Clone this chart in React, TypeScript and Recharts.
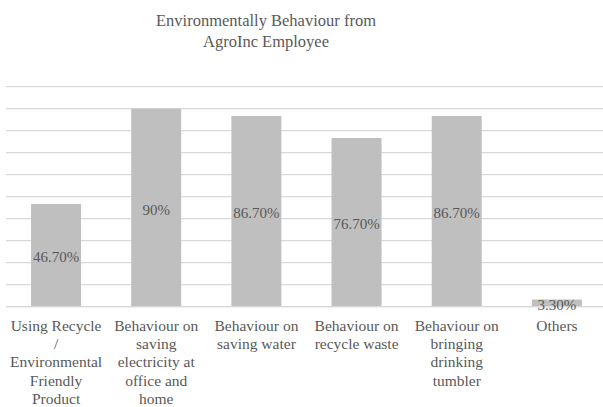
import { Bar, BarChart, CartesianGrid, LabelList, XAxis, YAxis } from 'recharts';

// Single grey series, Excel-style: light gridlines, centred value labels,
// wrapped category names under the axis. No legend.

const CATEGORIES = [
  'Using Recycle\n/\nEnvironmental\nFriendly\nProduct',
  'Behaviour on\nsaving\nelectricity at\noffice and\nhome',
  'Behaviour on\nsaving water',
  'Behaviour on\nrecycle waste',
  'Behaviour on\nbringing\ndrinking\ntumbler',
  'Others',
];
const VALUES = [46.7, 90, 86.7, 76.7, 86.7, 3.3];
const Y_TICKS = [0, 10, 20, 30, 40, 50, 60, 70, 80, 90, 100];

const FONT = "'Liberation Serif', Tinos, 'Times New Roman', 'DejaVu Serif', serif";
const TEXT = '#595959';
const BAR = '#bfbfbf';
const GRID = '#d9d9d9';

const data = CATEGORIES.map((name, i) => ({ name, value: VALUES[i] }));

const pct = (v: number) => (Number.isInteger(v) ? `${v}%` : `${v.toFixed(2)}%`);

function WrappedTick({ x, y, payload }: any) {
  const lines = String(payload.value).split('\n');
  return (
    <text x={x} y={y} textAnchor="middle" fill={TEXT} style={{ fontFamily: FONT, fontSize: 15.5 }}>
      {lines.map((l, i) => (
        <tspan key={i} x={x} dy={i === 0 ? 16 : 18.3}>
          {l}
        </tspan>
      ))}
    </text>
  );
}

// centred value label, nudged down a touch like Excel's
function ValueLabel({ x, y, width, height, value }: any) {
  return (
    <text
      x={x + width / 2}
      y={y + height / 2 + 2}
      textAnchor="middle"
      dominantBaseline="central"
      fill={TEXT}
      style={{ fontFamily: FONT, fontSize: 15 }}
    >
      {pct(Number(value))}
    </text>
  );
}

export default function App() {
  return (
    <div
      style={{
        position: 'absolute',
        left: 0,
        top: 0,
        width: 603,
        height: 407,
        overflow: 'hidden',
        background: '#fff',
        fontFamily: FONT,
      }}
    >
      <div
        style={{
          position: 'absolute',
          left: 0,
          top: 10,
          width: 532,
          textAlign: 'center',
          fontSize: 16.5,
          lineHeight: '21px',
          color: TEXT,
          fontFamily: FONT,
        }}
      >
        Environmentally Behaviour from
        <br />
        AgroInc Employee
      </div>
      <BarChart
        width={615}
        height={407}
        data={data}
        margin={{ top: 86.7, right: 8, bottom: 0, left: 6 }}
        barCategoryGap="25%"
        style={{ fontFamily: FONT }}
      >
        <CartesianGrid vertical={false} stroke={GRID} strokeWidth={1.3} />
        <YAxis hide domain={[0, 100]} ticks={Y_TICKS} interval={0} />
        <XAxis
          dataKey="name"
          interval={0}
          height={100.3}
          tickLine={false}
          axisLine={{ stroke: GRID, strokeWidth: 1.3 }}
          tick={<WrappedTick />}
        />
        <Bar dataKey="value" fill={BAR} isAnimationActive={false}>
          <LabelList dataKey="value" content={<ValueLabel />} />
        </Bar>
      </BarChart>
    </div>
  );
}
